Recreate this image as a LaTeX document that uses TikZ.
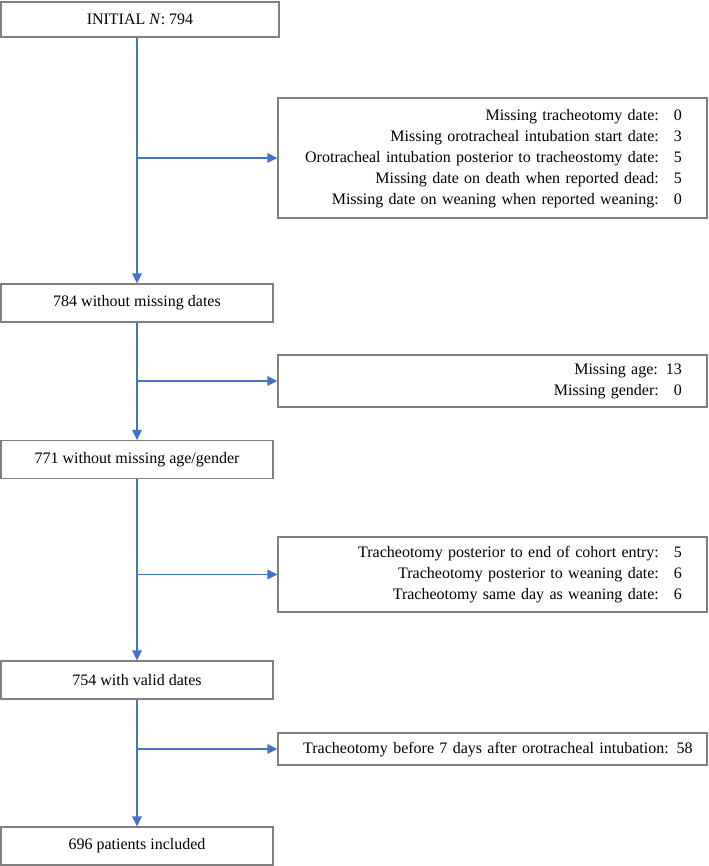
\documentclass[tikz,border=0pt]{standalone}
\usepackage{fontspec}
\setmainfont{Liberation Serif}
\usepackage{array}
\usetikzlibrary{arrows.meta,calc}
\definecolor{flowblue}{HTML}{4472C4}
\definecolor{boxgray}{HTML}{7F7F7F}

\begin{document}
\begin{tikzpicture}[x=0.75pt,y=-0.75pt,
    font=\fontsize{12}{15.75}\selectfont,
    box/.style={draw=boxgray,line width=0.8pt,minimum width=204pt,minimum height=28.5pt,inner sep=0pt},
    rbox/.style={draw=boxgray,line width=0.8pt,text width=284pt,inner xsep=18.875pt,inner ysep=0pt,align=right},
    flow/.style={flowblue,line width=1.2pt,-{Triangle[length=7.5pt,width=7pt]}}]
  \useasboundingbox (0,0) rectangle (709,866);

  \node[box,minimum width=208.5pt,minimum height=26.25pt] (init) at (140,19.5) {INITIAL \textit{N}: 794};
  \node[box] (dates) at (137,303) {784 without missing dates};
  \node[box] (agegender) at (137,459.5) {771 without missing age/gender};
  \node[box] (valid) at (137,680) {754 with valid dates};
  \node[box] (included) at (137,846) {696 patients included};

  \node[rbox,minimum height=90pt] (exdates) at (492.5,158) {%
    \begin{tabular}{@{}r@{\hspace{11.25pt}}c@{}}
      Missing tracheotomy date: & 0\\
      Missing orotracheal intubation start date: & 3\\
      Orotracheal intubation posterior to tracheostomy date: & 5\\
      Missing date on death when reported dead: & 5\\
      Missing date on weaning when reported weaning: & 0
    \end{tabular}};
  \node[rbox,minimum height=39pt] (exage) at (492.5,381) {%
    \begin{tabular}{@{}r@{\hspace{11.25pt}}c@{}}
      \multicolumn{2}{@{}r@{}}{Missing age: 13}\\
      Missing gender: & 0
    \end{tabular}};
  \node[rbox,minimum height=56.25pt] (exvalid) at (492.5,574.5) {%
    \begin{tabular}{@{}r@{\hspace{11.25pt}}c@{}}
      Tracheotomy posterior to end of cohort entry: & 5\\
      Tracheotomy posterior to weaning date: & 6\\
      Tracheotomy same day as weaning date: & 6
    \end{tabular}};
  \node[rbox,minimum height=24pt] (exearly) at (492.5,749) {%
    \begin{tabular}{@{}r@{}}
      Tracheotomy before 7 days after orotracheal intubation: 58
    \end{tabular}};

  \draw[flow] (init.south -| dates.north) -- (dates.north);
  \draw[flow] (dates.south) -- (agegender.north);
  \draw[flow] (agegender.south) -- (valid.north);
  \draw[flow] (valid.south) -- (included.north);

  \draw[flow] (dates.north |- exdates.west) -- (exdates.west);
  \draw[flow] (dates.north |- exage.west) -- (exage.west);
  \draw[flow] (dates.north |- exvalid.west) -- (exvalid.west);
  \draw[flow] (dates.north |- exearly.west) -- (exearly.west);
\end{tikzpicture}
\end{document}
